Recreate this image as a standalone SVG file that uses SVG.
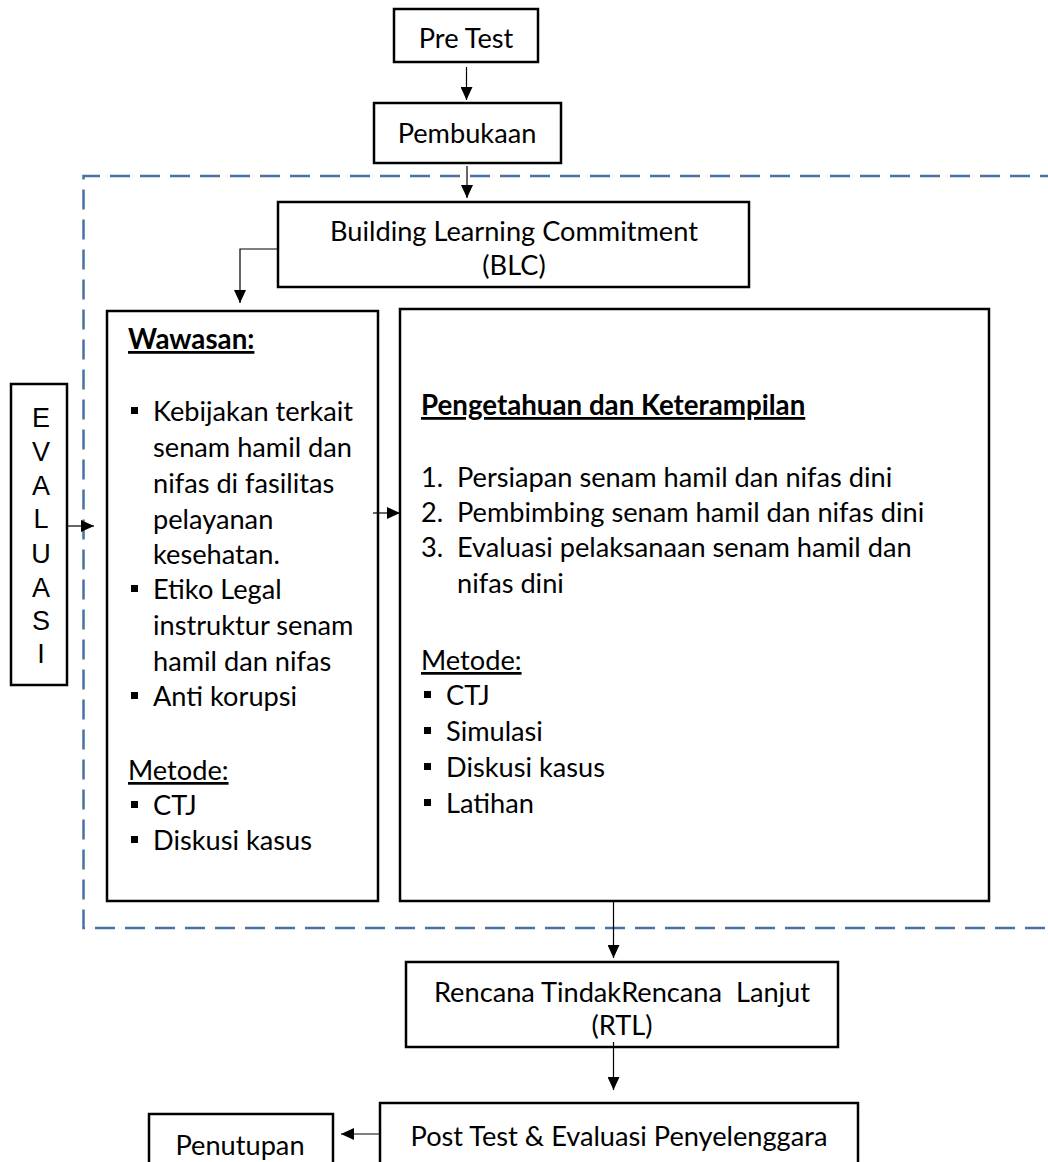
<svg xmlns="http://www.w3.org/2000/svg" width="1048" height="1162" viewBox="0 0 1048 1162">
<defs>
<marker id="ah" viewBox="0 0 13 12" refX="13" refY="6" markerWidth="13" markerHeight="12" markerUnits="userSpaceOnUse" orient="auto">
<path d="M0,0 L13,6 L0,12 Z" fill="#000"/>
</marker>
<style>
.box{fill:#fff;stroke:#000;stroke-width:2.5}
.t{font-family:Lato,"Liberation Sans",sans-serif;font-size:27.2px;fill:#000}
.c{text-anchor:middle}
.b{font-weight:bold;text-decoration:underline;font-size:27.7px}
.u{text-decoration:underline}
.ev{font-family:"Liberation Sans",Arial,sans-serif;font-size:27px;text-anchor:middle;fill:#000}
.cn{fill:none;stroke:#000;stroke-width:1.2;marker-end:url(#ah)}
.dash{fill:none;stroke:#4a72a0;stroke-width:2.5;stroke-dasharray:20 10}
.bul{fill:#000}
</style>
</defs>
<rect width="1048" height="1162" fill="#fff"/>
<path class="dash" d="M1060,176 H83.5 V928 H1060"/>

<g id="pretest"><rect class="box" x="394" y="9" width="144" height="53"/><text class="t c" x="466" y="48">Pre Test</text></g>
<g id="pembukaan"><rect class="box" x="374" y="103" width="187" height="60"/><text class="t c" x="467" y="143">Pembukaan</text></g>
<g id="blc"><rect class="box" x="278" y="202" width="471" height="85"/><text class="t c" x="514" y="241">Building Learning Commitment</text><text class="t c" x="514" y="275">(BLC)</text></g>
<g id="evaluasi"><rect class="box" x="11" y="384" width="56" height="301"/>
<text class="ev" x="41" y="427">E</text><text class="ev" x="41" y="461">V</text><text class="ev" x="41" y="495">A</text><text class="ev" x="41" y="528">L</text><text class="ev" x="41" y="563">U</text><text class="ev" x="41" y="597">A</text><text class="ev" x="41" y="630">S</text><text class="ev" x="41" y="663">I</text></g>
<g id="wawasan"><rect class="box" x="107" y="311" width="271" height="590"/>
<text class="t b" x="128" y="349">Wawasan:</text>
<rect class="bul" x="131" y="407" width="7" height="7"/>
<text class="t" x="153" y="421">Kebijakan terkait</text>
<text class="t" x="153" y="457">senam hamil dan</text>
<text class="t" x="153" y="493">nifas di fasilitas</text>
<text class="t" x="153" y="529">pelayanan</text>
<text class="t" x="153" y="564">kesehatan.</text>
<rect class="bul" x="131" y="585" width="7" height="7"/>
<text class="t" x="153" y="599">Etiko Legal</text>
<text class="t" x="153" y="635">instruktur senam</text>
<text class="t" x="153" y="671">hamil dan nifas</text>
<rect class="bul" x="131" y="692" width="7" height="7"/>
<text class="t" x="153" y="706">Anti korupsi</text>
<text class="t u" x="128" y="780">Metode:</text>
<rect class="bul" x="131" y="801" width="7" height="7"/>
<text class="t" x="153" y="815">CTJ</text>
<rect class="bul" x="131" y="836" width="7" height="7"/>
<text class="t" x="153" y="850">Diskusi kasus</text>
</g>
<g id="pengetahuan"><rect class="box" x="400" y="309" width="589" height="592"/>
<text class="t b" x="421" y="415">Pengetahuan dan Keterampilan</text>
<text class="t" x="421" y="487">1.</text><text class="t" x="457" y="487">Persiapan senam hamil dan nifas dini</text>
<text class="t" x="421" y="522">2.</text><text class="t" x="457" y="522">Pembimbing senam hamil dan nifas dini</text>
<text class="t" x="421" y="557">3.</text><text class="t" x="457" y="557">Evaluasi pelaksanaan senam hamil dan</text>
<text class="t" x="457" y="593">nifas dini</text>
<text class="t u" x="421" y="670">Metode:</text>
<rect class="bul" x="424" y="691" width="7" height="7"/><text class="t" x="446" y="705">CTJ</text>
<rect class="bul" x="424" y="727" width="7" height="7"/><text class="t" x="446" y="741">Simulasi</text>
<rect class="bul" x="424" y="763" width="7" height="7"/><text class="t" x="446" y="777">Diskusi kasus</text>
<rect class="bul" x="424" y="799" width="7" height="7"/><text class="t" x="446" y="813">Latihan</text>
</g>
<g id="rtl"><rect class="box" x="406" y="962" width="432" height="85"/><text class="t c" x="622" y="1002" xml:space="preserve">Rencana TindakRencana  Lanjut</text><text class="t c" x="622" y="1035">(RTL)</text></g>
<g id="posttest"><rect class="box" x="380" y="1103" width="478" height="80"/><text class="t c" x="619" y="1146">Post Test &amp; Evaluasi Penyelenggara</text></g>
<g id="penutupan"><rect class="box" x="149" y="1114" width="184" height="70"/><text class="t c" x="240" y="1155">Penutupan</text></g>

<g id="connectors">
<path class="cn" d="M466.5,67 V100"/>
<path class="cn" d="M467,166 V198"/>
<path class="cn" d="M278,249 H240 V303"/>
<path class="cn" d="M67,526 H94"/>
<path class="cn" d="M373,513 H400"/>
<path class="cn" d="M613.5,901 V958"/>
<path class="cn" d="M613.5,1042 V1090"/>
<path class="cn" d="M380,1134 H341"/>
</g>
</svg>
